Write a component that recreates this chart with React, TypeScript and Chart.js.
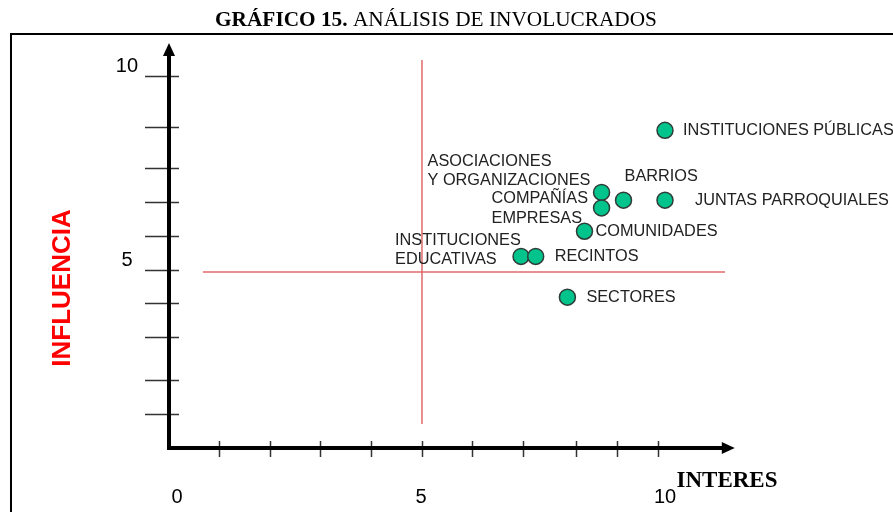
import React, { useEffect, useRef } from "react";
import { Chart, registerables } from "chart.js";

Chart.register(...registerables);

// ---- data ----
const categories: string[] = [
  "INSTITUCIONES PÚBLICAS",
  "ASOCIACIONES\nY ORGANIZACIONES",
  "COMPAÑÍAS\nEMPRESAS",
  "BARRIOS",
  "JUNTAS PARROQUIALES",
  "COMUNIDADES",
  "INSTITUCIONES\nEDUCATIVAS",
  "RECINTOS",
  "SECTORES",
];
const interes: number[] = [10, 8.7, 8.7, 9.15, 10, 8.35, 7.05, 7.35, 8.0];
const influencia: number[] = [8.6, 7.0, 6.6, 6.8, 6.8, 6.0, 5.35, 5.35, 4.3];

const xTickValues: number[] = [0.86, 1.9, 2.93, 3.98, 5.02, 6.04, 7.09, 8.18, 9.02, 9.86];
const yTickValues: number[] = [10, 8.69, 7.63, 6.75, 5.88, 5, 4.15, 3.27, 2.16, 1.29];
const xTickLabels: number[] = [0, 5, 10];
const yTickLabels: number[] = [10, 5];

const midInteres = 5.02;
const midInfluencia = 4.95;

// ---- layout (pixel offsets for labels, not data) ----
const labelOffsets: [number, number][] = [
  [18, 0],
  [-174, -31],
  [-110, -9],
  [1, -24],
  [30, 0],
  [11, 0],
  [-126, -16],
  [19, 0],
  [19, 0],
];

const TITLE_BOLD = "GRÁFICO 15.";
const TITLE_REST = " ANÁLISIS DE INVOLUCRADOS";
const Y_TITLE = "INFLUENCIA";
const X_TITLE = "INTERES";

const SANS = "'Liberation Sans', Arial, sans-serif";
const SERIF = "'Liberation Serif', 'Times New Roman', serif";

const decorPlugin = {
  id: "decor",
  beforeDatasetsDraw(chart: any) {
    const ctx = chart.ctx as CanvasRenderingContext2D;
    const xs = chart.scales.x;
    const ys = chart.scales.y;
    const ox = xs.getPixelForValue(-0.164);
    const oy = ys.getPixelForValue(0.412);
    const xEnd = xs.getPixelForValue(11.43);
    const yEnd = ys.getPixelForValue(10.85);
    ctx.save();
    // frame
    ctx.strokeStyle = "#000";
    ctx.lineWidth = 2;
    ctx.strokeRect(11, 34, 1200, 1200);

    // title
    ctx.fillStyle = "#000";
    ctx.textBaseline = "middle";
    const tf = 21.3;
    ctx.font = `bold ${tf}px ${SERIF}`;
    const w1 = ctx.measureText(TITLE_BOLD).width;
    ctx.font = `${tf}px ${SERIF}`;
    const w2 = ctx.measureText(TITLE_REST).width;
    const tx = 436 - (w1 + w2) / 2;
    ctx.textAlign = "left";
    ctx.font = `bold ${tf}px ${SERIF}`;
    ctx.fillText(TITLE_BOLD, tx, 20);
    ctx.font = `${tf}px ${SERIF}`;
    ctx.fillText(TITLE_REST, tx + w1, 20);

    // y ticks
    ctx.strokeStyle = "#333";
    ctx.lineWidth = 1.5;
    yTickValues.forEach((v) => {
      const py = Math.round(ys.getPixelForValue(v)) + 0.5;
      ctx.beginPath();
      ctx.moveTo(ox - 24, py);
      ctx.lineTo(ox + 10, py);
      ctx.stroke();
    });
    // x ticks
    xTickValues.forEach((v) => {
      const px = Math.round(xs.getPixelForValue(v)) + 0.5;
      ctx.beginPath();
      ctx.moveTo(px, oy - 7);
      ctx.lineTo(px, oy + 9);
      ctx.stroke();
    });

    // axes
    ctx.strokeStyle = "#000";
    ctx.fillStyle = "#000";
    ctx.lineWidth = 4;
    ctx.beginPath();
    ctx.moveTo(ox, yEnd + 10);
    ctx.lineTo(ox, oy);
    ctx.lineTo(xEnd - 10, oy);
    ctx.stroke();
    ctx.beginPath();
    ctx.moveTo(ox, yEnd);
    ctx.lineTo(ox - 6, yEnd + 13);
    ctx.lineTo(ox + 6, yEnd + 13);
    ctx.closePath();
    ctx.fill();
    ctx.beginPath();
    ctx.moveTo(xEnd, oy);
    ctx.lineTo(xEnd - 13, oy - 6);
    ctx.lineTo(xEnd - 13, oy + 6);
    ctx.closePath();
    ctx.fill();

    // tick labels
    ctx.font = `20px ${SANS}`;
    ctx.fillStyle = "#000";
    ctx.textAlign = "center";
    ctx.textBaseline = "middle";
    yTickLabels.forEach((v) => {
      ctx.fillText(String(v), ox - 42, ys.getPixelForValue(v) - 10);
    });
    xTickLabels.forEach((v) => {
      ctx.fillText(String(v), xs.getPixelForValue(v), oy + 49);
    });

    // axis titles
    ctx.font = `bold 23px ${SERIF}`;
    ctx.fillText(X_TITLE, 727, 481);
    ctx.save();
    ctx.translate(63, 288);
    ctx.rotate(-Math.PI / 2);
    ctx.fillStyle = "#ff0000";
    ctx.font = `bold 26px ${SANS}`;
    ctx.fillText(Y_TITLE, 0, 0);
    ctx.restore();
    ctx.restore();
  },
  afterDatasetsDraw(chart: any) {
    const ctx = chart.ctx as CanvasRenderingContext2D;
    const meta = chart.getDatasetMeta(2);
    ctx.save();
    ctx.font = `16.3px ${SANS}`;
    ctx.fillStyle = "#222";
    ctx.textAlign = "left";
    ctx.textBaseline = "middle";
    meta.data.forEach((el: any, i: number) => {
      const [dx, dy] = labelOffsets[i];
      categories[i].split("\n").forEach((line, j) => {
        ctx.fillText(line, el.x + dx, el.y + dy + j * 19.5);
      });
    });
    ctx.restore();
  },
};

export default function App() {
  const ref = useRef<HTMLCanvasElement | null>(null);
  useEffect(() => {
    if (!ref.current) return;
    const chart = new Chart(ref.current, {
      type: "scatter",
      data: {
        datasets: [
          {
            type: "line",
            data: [
              { x: midInteres, y: 10.41 },
              { x: midInteres, y: 1.03 },
            ],
            borderColor: "#e06a6a",
            borderWidth: 1.5,
            pointRadius: 0,
            showLine: true,
          } as any,
          {
            type: "line",
            data: [
              { x: 0.53, y: midInfluencia },
              { x: 11.23, y: midInfluencia },
            ],
            borderColor: "#e06a6a",
            borderWidth: 1.5,
            pointRadius: 0,
            showLine: true,
          } as any,
          {
            data: interes.map((x, i) => ({ x, y: influencia[i] })),
            backgroundColor: "#00c48c",
            borderColor: "#2f3d38",
            borderWidth: 1.5,
            pointRadius: 8,
            pointHoverRadius: 8,
          },
        ],
      },
      options: {
        responsive: false,
        animation: false,
        layout: { padding: 0, autoPadding: false },
        plugins: { legend: { display: false }, tooltip: { enabled: false }, title: { display: false } },
        events: [],
        scales: {
          x: { type: "linear", display: false, min: -177 / 48.8, max: 716 / 48.8 },
          y: { type: "linear", display: false, min: 5 - 242 / 38.8, max: 5 + 270 / 38.8 },
        },
      },
      plugins: [decorPlugin],
    });
    return () => chart.destroy();
  }, []);
  return (
    <div style={{ position: "absolute", left: 0, top: 0, width: 893, height: 512, background: "#fff" }}>
      <canvas ref={ref} width={893} height={512} />
    </div>
  );
}
